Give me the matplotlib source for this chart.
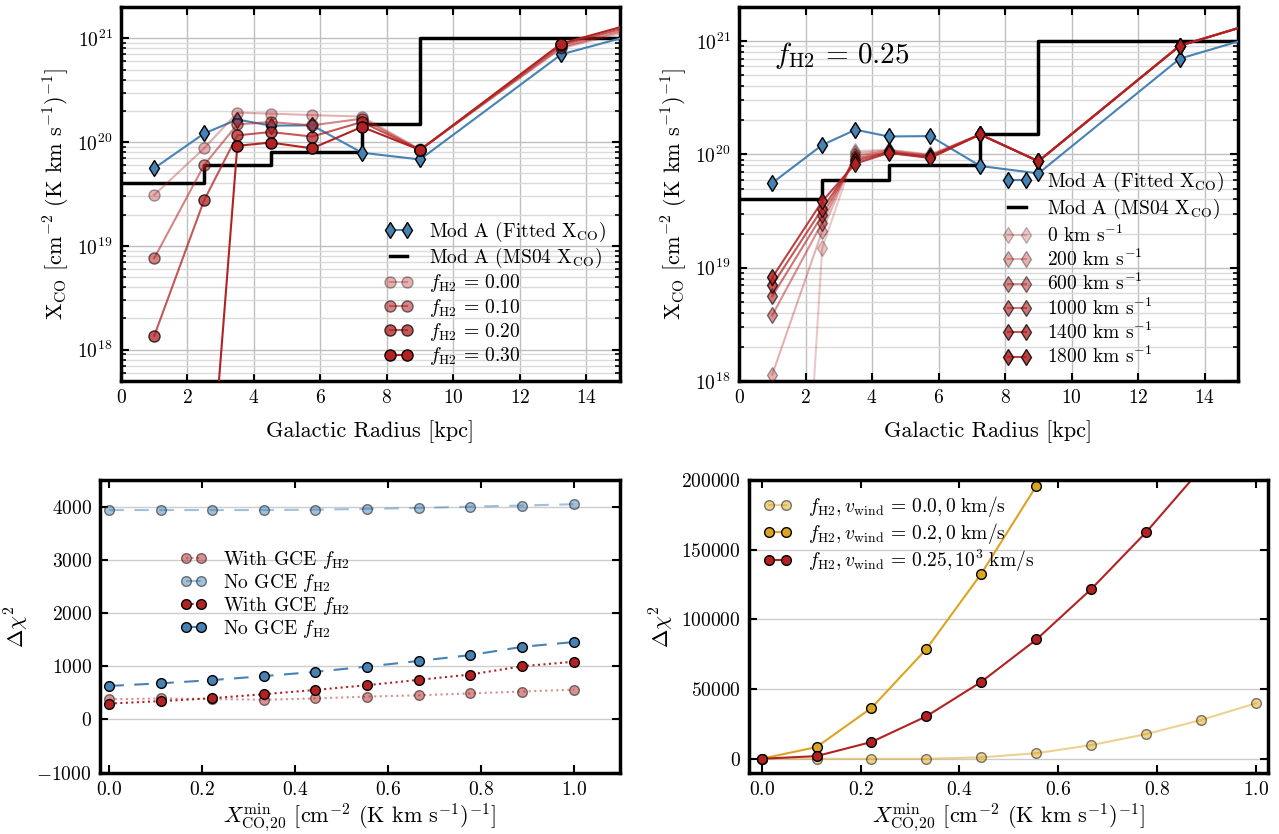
import matplotlib.pyplot as plt
import numpy as np

plt.rcParams.update({
    'font.family': 'serif',
    'font.serif': ['cmr10'],
    'mathtext.fontset': 'cm',
    'axes.formatter.use_mathtext': True,
    'axes.unicode_minus': True,
    'axes.linewidth': 2.5,
    'xtick.direction': 'in',
    'ytick.direction': 'in',
    'xtick.top': True,
    'ytick.right': True,
    'xtick.major.size': 6,
    'ytick.major.size': 6,
    'xtick.major.width': 1.5,
    'ytick.major.width': 1.5,
    'ytick.minor.size': 3.5,
    'ytick.minor.width': 1.2,
    'xtick.major.pad': 6,
    'ytick.major.pad': 6,
    'xtick.labelsize': 14,
    'ytick.labelsize': 14,
    'axes.labelsize': 16,
    'legend.fontsize': 14,
})

BLUE = '#4682b4'
RED = '#b22222'
GOLD = '#daa520'

# --- top panels: X_CO against galactic radius
radius = [1.0, 2.5, 3.5, 4.5, 5.75, 7.25, 9.0, 13.25, 18.0]
xco_fitted = [5.6e19, 1.21e20, 1.65e20, 1.44e20, 1.45e20, 7.9e19, 6.8e19, 7.0e20, 1.8e21]
ms04_edges = [0.0, 2.5, 4.5, 7.25, 9.0, 15.0]
ms04_xco = [4e19, 6e19, 8e19, 1.5e20, 1e21, 1e21]

fh2_labels = ['0.00', '0.10', '0.20', '0.30']
fh2_alpha = [0.35, 0.55, 0.75, 1.0]
xco_fh2 = [
    [3.1e19, 8.7e19, 1.92e20, 1.88e20, 1.82e20, 1.76e20, 8.5e19, 8.0e20, 1.95e21],
    [7.6e18, 6.0e19, 1.48e20, 1.56e20, 1.45e20, 1.68e20, 8.4e19, 8.2e20, 2.1e21],
    [1.36e18, 2.75e19, 1.16e20, 1.25e20, 1.13e20, 1.56e20, 8.4e19, 8.6e20, 2.2e21],
    [1e15, 7.4e15, 9.2e19, 9.9e19, 8.7e19, 1.4e20, 8.4e19, 8.9e20, 2.35e21],
]

vwind_labels = ['0', '200', '600', '1000', '1400', '1800']
vwind_alpha = [0.25, 0.35, 0.5, 0.62, 0.75, 0.85]
xco_vwind = [
    [1e12, 1.48e19, 1.07e20, 1.10e20, 1.00e20, 1.50e20, 8.7e19, 9.1e20, 2.4e21],
    [1.14e18, 2.1e19, 1.02e20, 1.09e20, 9.9e19, 1.50e20, 8.7e19, 9.1e20, 2.4e21],
    [3.8e18, 2.5e19, 9.7e19, 1.07e20, 9.7e19, 1.50e20, 8.7e19, 9.1e20, 2.4e21],
    [5.6e18, 2.9e19, 9.2e19, 1.05e20, 9.6e19, 1.50e20, 8.7e19, 9.1e20, 2.4e21],
    [7.0e18, 3.3e19, 8.8e19, 1.04e20, 9.4e19, 1.50e20, 8.7e19, 9.1e20, 2.4e21],
    [8.2e18, 3.85e19, 8.3e19, 1.03e20, 9.3e19, 1.50e20, 8.7e19, 9.1e20, 2.4e21],
]

# --- bottom panels: delta chi^2 against X_CO minimum
xmin = [0.0, 0.111, 0.222, 0.333, 0.444, 0.556, 0.667, 0.778, 0.889, 1.0]
with_gce_light = [380, 395, 385, 370, 395, 430, 455, 490, 525, 560]
no_gce_light = [3935, 3935, 3935, 3935, 3943, 3956, 3975, 4000, 4020, 4045]
with_gce = [300, 345, 400, 475, 555, 645, 745, 845, 1000, 1085]
no_gce = [630, 680, 740, 815, 895, 995, 1100, 1210, 1365, 1455]

chi_f00_v0 = [0, 0, 0, 0, 1000, 4000, 9800, 17700, 27800, 39800]
chi_f02_v0 = [0, 8400, 36400, 78600, 132600, 195900, 270000, 355000, 450000, 560000]
chi_f025_v1000 = [0, 1900, 12000, 30400, 55100, 85600, 121800, 162600, 208000, 256000]

ylab_x = r'X$_{\rm CO}$ [cm$^{-2}$ (K km s$^{-1}$)$^{-1}$]'
xlab_b = r'$X^{\rm min}_{\rm CO,\!20}$ [cm$^{-2}$ (K km s$^{-1}$)$^{-1}$]'

fig = plt.figure(figsize=(12.79, 8.34), dpi=100)
W, H = 1279.0, 834.0


def px_axes(left, top, right, bottom):
    return fig.add_axes([left / W, 1 - bottom / H, (right - left) / W, (bottom - top) / H])


def style_top(ax):
    ax.set_yscale('log')
    ax.set_xlim(0, 15)
    ax.set_xticks([0, 2, 4, 6, 8, 10, 12, 14])
    ax.grid(True, which='major', color='0.75', lw=1.0)
    ax.grid(True, which='minor', axis='y', color='0.86', lw=1.0)
    ax.set_axisbelow(True)
    ax.set_xlabel('Galactic Radius [kpc]', labelpad=9)
    ax.set_ylabel(ylab_x)


# top left
ax1 = px_axes(121, 7, 619.5, 381)
ax1.plot(radius, xco_fitted, '-d', color=BLUE, mec='k', ms=8, lw=1.5, label=r'Mod A (Fitted X$_{\rm CO}$)', zorder=3)
ax1.step(ms04_edges, ms04_xco, where='post', color='k', lw=2.5, label=r'Mod A (MS04 X$_{\rm CO}$)', zorder=2)
for lab, a, vals in zip(fh2_labels, fh2_alpha, xco_fh2):
    ax1.plot(radius, vals, '-o', color=RED, mec='k', ms=8, lw=1.5, alpha=a,
             label=r'$f_{\rm H2}\,=\,%s$' % lab, zorder=4)
style_top(ax1)
ax1.set_ylim(5e17, 2e21)
ax1.legend(loc='lower right', frameon=False, numpoints=2, handlelength=1.5,
           labelspacing=0.12, borderaxespad=0.3)

# top right
ax2 = px_axes(739, 7, 1238, 381)
ax2.plot(radius, xco_fitted, '-d', color=BLUE, mec='k', ms=8, lw=1.5, label=r'Mod A (Fitted X$_{\rm CO}$)', zorder=3)
ax2.step(ms04_edges, ms04_xco, where='post', color='k', lw=2.5, label=r'Mod A (MS04 X$_{\rm CO}$)', zorder=2)
for lab, a, vals in zip(vwind_labels, vwind_alpha, xco_vwind):
    ax2.plot(radius, vals, '-d', color=RED, mec='k', ms=8, lw=1.5, alpha=a,
             label=r'%s km s$^{-1}$' % lab, zorder=4)
style_top(ax2)
ax2.set_ylim(1e18, 2e21)
ax2.text(0.07, 0.85, r'$f_{\rm H2}\,=\,0.25$', transform=ax2.transAxes, fontsize=21)
ax2.legend(loc='lower right', frameon=False, numpoints=2, handlelength=1.5,
           labelspacing=0.16, borderaxespad=0.3)

# bottom left
ax3 = px_axes(100, 480, 620, 772.7)
ax3.plot(xmin, with_gce_light, ':o', color=RED, mec='k', ms=7, lw=1.5, alpha=0.5, label=r'With GCE $f_{\rm H2}$')
ax3.plot(xmin, no_gce_light, '--o', color=BLUE, mec='k', ms=7, lw=1.5, alpha=0.5, dashes=(7, 5), label=r'No GCE $f_{\rm H2}$')
ax3.plot(xmin, with_gce, ':o', color=RED, mec='k', ms=7, lw=1.5, label=r'With GCE $f_{\rm H2}$')
ax3.plot(xmin, no_gce, '--o', color=BLUE, mec='k', ms=7, lw=1.5, dashes=(7, 5), label=r'No GCE $f_{\rm H2}$')
ax3.set_xlim(-0.02, 1.1)
ax3.set_ylim(-1000, 4500)
ax3.set_xticks([0.0, 0.2, 0.4, 0.6, 0.8, 1.0])
ax3.set_yticks([-1000, 0, 1000, 2000, 3000, 4000])
ax3.yaxis.grid(True, color='0.8', lw=1.0)
ax3.set_axisbelow(True)
ax3.set_xlabel(xlab_b, labelpad=2)
ax3.set_ylabel(r'$\Delta\chi^2$')
ax3.legend(loc='center left', bbox_to_anchor=(0.12, 0.61), frameon=False, numpoints=2,
           handlelength=1.4, labelspacing=0.05)

# bottom right
ax4 = px_axes(749.3, 480, 1268.3, 772.7)
ax4.plot(xmin, chi_f00_v0, '-o', color=GOLD, mec='k', ms=7, lw=1.5, alpha=0.5,
         label=r'$f_{\rm H2}, v_{\rm wind}\,=\,0.0, 0\ {\rm km/s}$')
ax4.plot(xmin, chi_f02_v0, '-o', color=GOLD, mec='k', ms=7, lw=1.5,
         label=r'$f_{\rm H2}, v_{\rm wind}\,=\,0.2, 0\ {\rm km/s}$')
ax4.plot(xmin, chi_f025_v1000, '-o', color=RED, mec='k', ms=7, lw=1.5,
         label=r'$f_{\rm H2}, v_{\rm wind}\,=\,0.25, 10^3\ {\rm km/s}$')
ax4.set_xlim(-0.025, 1.025)
ax4.set_ylim(-10000, 200000)
ax4.set_xticks([0.0, 0.2, 0.4, 0.6, 0.8, 1.0])
ax4.set_yticks([0, 50000, 100000, 150000, 200000])
ax4.yaxis.grid(True, color='0.8', lw=1.0)
ax4.set_axisbelow(True)
ax4.set_xlabel(xlab_b, labelpad=2)
ax4.set_ylabel(r'$\Delta\chi^2$')
ax4.legend(loc='upper left', frameon=False, numpoints=2, handlelength=1.5,
           labelspacing=0.1, borderaxespad=0.3)

fig.savefig('out.png', dpi=100)
